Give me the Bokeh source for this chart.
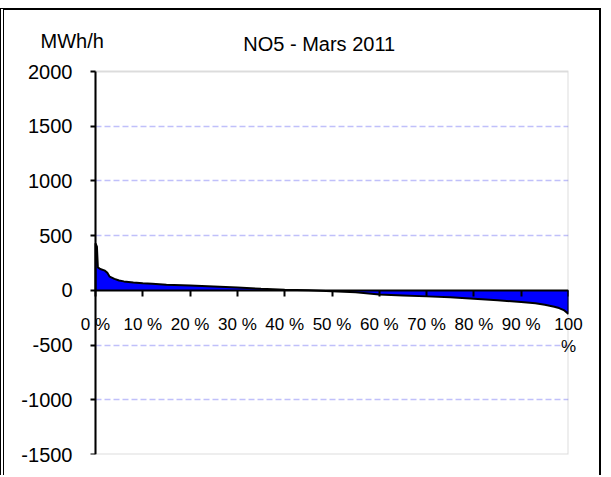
from bokeh.plotting import figure
from bokeh.models import Label, FixedTicker, Range1d, LinearAxis, BoxAnnotation
from bokeh.embed import file_html
from bokeh.resources import INLINE

# Duration curve, NO5 March 2011 (share of hours, %) vs MWh/h
pct = [0, 0.3, 0.5, 1, 2, 2.5, 3, 4, 5, 6, 8, 10, 12, 15, 20, 25, 30, 35, 40,
       45, 50, 55, 60, 65, 70, 75, 80, 85, 90, 93, 95, 97, 98, 99, 100]
mwh = [430, 400, 210, 195, 180, 160, 125, 105, 90, 82, 72, 65, 60, 52, 45, 35,
       25, 15, 6, 0, -8, -18, -38, -46, -55, -64, -76, -90, -107, -118, -132,
       -150, -162, -180, -215]

x_ticks = [0, 10, 20, 30, 40, 50, 60, 70, 80, 90, 100]
x_tick_labels = ["0 %", "10 %", "20 %", "30 %", "40 %", "50 %", "60 %",
                 "70 %", "80 %", "90 %", "100\n%"]
y_ticks = [-1500, -1000, -500, 0, 500, 1000, 1500, 2000]
y_tick_labels = ["-1500", "-1000", "-500", "0", "500", "1000", "1500", "2000"]
title_text = "NO5 -  Mars 2011"
unit_text = "MWh/h"

FONT = "Liberation Sans"
W, H = 601, 467                 # canvas size (CSS borders come on top)
X0, X1 = x_ticks[0], x_ticks[-1]
Y0, Y1 = y_ticks[0], y_ticks[-1]

# plot area in page pixels (what the axes at 0 % / 100 %, 2000 / -1500 span)
PL, PR, PT, PB = 95, 568, 71, 454
# page offset of the canvas (4px double border left, 8px margin + 2px border top)
OX, OY = 4, 10
# the frame is made larger than the plot area so that every text can live in it
FL, FT = 20, 15
sx = (PR - PL) / (X1 - X0)
sy = (PB - PT) / (Y1 - Y0)


def px_x(px):
    return X0 + (px - PL) / sx


def px_y(py):
    return Y0 + (PB - py) / sy


p = figure(width=W, height=H, output_backend="svg", toolbar_location=None,
           title=None,
           x_range=Range1d(px_x(FL), X1), y_range=Range1d(Y0, px_y(FT)),
           min_border_left=FL - OX, min_border_right=OX + W - PR,
           min_border_top=FT - OY, min_border_bottom=OY + H - PB)

p.background_fill_color = "white"
p.border_fill_color = "white"
p.outline_line_color = None

p.styles = {"margin-top": "8px",
            "border-top": "2px solid black", "border-left": "4px double black",
            "border-right": "2px solid black"}

# plot-area border
p.add_layout(BoxAnnotation(left=X0, right=X1, bottom=Y0, top=Y1,
                           fill_alpha=0, line_color="#8c8c8c", line_width=2,
                           level="underlay"))

# grid
p.xgrid.visible = False
p.ygrid.ticker = FixedTicker(ticks=[t for t in y_ticks if Y0 < t < Y1 and t != 0])
p.ygrid.cross_bounds = (X0, X1)
p.ygrid.grid_line_color = "#c0c0fa"
p.ygrid.grid_line_dash = "6 3"
p.ygrid.grid_line_width = 1.5

# data
p.varea(x=pct, y1=[0] * len(pct), y2=mwh, fill_color="#0000ff", fill_alpha=1)
p.line(x=[pct[0]] + pct + [pct[-1]], y=[0] + mwh + [0], line_color="black",
       line_width=2)

# y tick labels (axis at the frame edge, labels pulled right to end at x=72px)
ya = p.yaxis[0]
ya.ticker = FixedTicker(ticks=y_ticks)
ya.major_label_overrides = {t: l for t, l in zip(y_ticks, y_tick_labels)}
ya.major_label_text_font = FONT
ya.major_label_text_font_size = "20px"
ya.major_label_text_color = "black"
ya.axis_line_color = None
ya.major_tick_line_color = None
ya.minor_tick_line_color = None
ya.major_tick_out = 0
ya.major_tick_in = 0
ya.major_label_standoff = -(72 - FL)

# y axis line and ticks at x = 0 %
yl = LinearAxis(ticker=FixedTicker(ticks=y_ticks), fixed_location=X0,
                bounds=(Y0, Y1))
yl.major_label_overrides = {t: "" for t in y_ticks}
yl.axis_line_color = "black"
yl.axis_line_width = 2
yl.major_tick_line_color = "black"
yl.major_tick_line_width = 2
yl.major_tick_out = 5
yl.major_tick_in = 0
yl.minor_tick_line_color = None
yl.major_label_standoff = 0
p.add_layout(yl, "left")

# x axis line and ticks at y = 0
xa = p.xaxis[0]
xa.fixed_location = 0
xa.bounds = (X0, X1)
xa.ticker = FixedTicker(ticks=x_ticks)
xa.major_label_overrides = {t: "" for t in x_ticks}
xa.axis_line_color = "black"
xa.axis_line_width = 2
xa.major_tick_line_color = "black"
xa.major_tick_line_width = 2
xa.major_tick_out = 6
xa.major_tick_in = 0
xa.minor_tick_line_color = None
xa.major_label_standoff = 0

# x tick labels: axis at the frame bottom, labels pulled up under the y = 0 line
xl = LinearAxis(ticker=FixedTicker(ticks=x_ticks))
xl.major_label_overrides = {t: l for t, l in zip(x_ticks, x_tick_labels)}
xl.major_label_text_font = FONT
xl.major_label_text_font_size = "17px"
xl.major_label_text_color = "black"
xl.axis_line_color = None
xl.major_tick_line_color = None
xl.minor_tick_line_color = None
xl.major_tick_out = 0
xl.major_tick_in = 0
xl.major_label_standoff = -140
p.add_layout(xl, "below")

# title and unit, placed by their page pixel positions
p.add_layout(Label(x=px_x(321.5), y=px_y(43), text=title_text, text_font=FONT,
                   text_font_size="20px", text_align="center",
                   text_baseline="alphabetic", text_color="black"))
p.add_layout(Label(x=px_x(40), y=px_y(40), text=unit_text, text_font=FONT,
                   text_font_size="20px", text_align="left",
                   text_baseline="alphabetic", text_color="black"))

open("out.html", "w").write(file_html(p, INLINE))
